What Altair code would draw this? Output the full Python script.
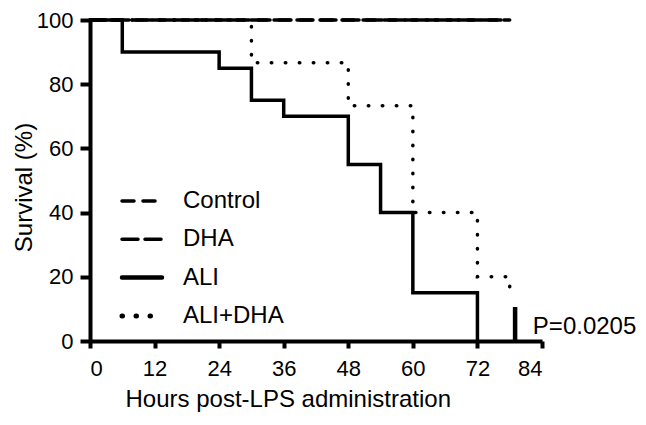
import altair as alt
import pandas as pd

series = ["Control", "DHA", "ALI", "ALI+DHA"]

control_t = [0, 78]
control_s = [100, 100]
dha_t = [0, 78]
dha_s = [100, 100]
ali_t = [0, 6, 24, 30, 36, 48, 54, 60, 72]
ali_s = [100, 90, 85, 75, 70, 55, 40, 15, 0]
alidha_t = [0, 30, 48, 60, 72, 78]
alidha_s = [100, 86.7, 73.3, 40, 20, 13.3]

end_t = [79]
end_lo = [0]
end_hi = [10.6]

p_label = ["P=0.0205"]
p_t = [82.3]
p_s = [4.3]

x_ticks = [0, 12, 24, 36, 48, 60, 72, 84]
y_ticks = [0, 20, 40, 60, 80, 100]

dashes = [[12, 9], [16, 7], [1, 0], [0.5, 13.5]]
widths = [3.5, 3.5, 4.5, 5]

rows = []
for name, ts, ss in [("Control", control_t, control_s), ("DHA", dha_t, dha_s),
                     ("ALI", ali_t, ali_s), ("ALI+DHA", alidha_t, alidha_s)]:
    for i, (t, s) in enumerate(zip(ts, ss)):
        rows.append({"series": name, "t": t, "s": s, "order": i})
df = pd.DataFrame(rows)

FONT = "Liberation Sans"

xscale = alt.Scale(domain=[0, 84], nice=False, zero=False)
yscale = alt.Scale(domain=[0, 100], nice=False)

lines = alt.Chart(df).mark_line(interpolate="step-after", color="black", strokeCap="round").encode(
    x=alt.X("t:Q", scale=xscale,
            axis=alt.Axis(values=x_ticks, title="Hours post-LPS administration",
                          titleAnchor="start", titleAlign="left", titleX=35)),
    y=alt.Y("s:Q", scale=yscale,
            axis=alt.Axis(values=y_ticks, title="Survival (%)", titleY=167)),
    detail="series:N",
    order="order:Q",
    strokeDash=alt.StrokeDash("series:N", scale=alt.Scale(domain=series, range=dashes), legend=None),
    strokeWidth=alt.StrokeWidth("series:N", scale=alt.Scale(domain=series, range=widths), legend=None),
)

end_df = pd.DataFrame({"t": end_t, "lo": end_lo, "hi": end_hi})
end_rule = alt.Chart(end_df).mark_rule(color="black", strokeWidth=4.5).encode(
    x=alt.X("t:Q", scale=xscale),
    y=alt.Y("lo:Q", scale=yscale),
    y2="hi:Q",
)

p_df = pd.DataFrame({"t": p_t, "s": p_s, "label": p_label})
p_text = alt.Chart(p_df).mark_text(align="left", baseline="middle", fontSize=24,
                                   font=FONT, color="black").encode(
    x=alt.X("t:Q", scale=xscale),
    y=alt.Y("s:Q", scale=yscale),
    text="label:N",
)

# legend (drawn as layers, positioned in pixels inside the plot area)
legend_layers = []
LEG_TOP, LEG_STEP = 181, 38.3
for i, name in enumerate(series):
    ldf = pd.DataFrame({"series": [name]})
    ypix = LEG_TOP + i * LEG_STEP
    sym = alt.Chart(ldf).mark_rule(color="black", strokeCap="round",
                                   strokeDash=dashes[i], strokeWidth=widths[i]).encode(
        x=alt.value(32), x2=alt.value(72), y=alt.value(ypix))
    lab = alt.Chart(ldf).mark_text(align="left", baseline="middle", fontSize=24,
                                   font=FONT, color="black").encode(
        x=alt.value(93), y=alt.value(ypix), text="series:N")
    legend_layers += [sym, lab]

chart = alt.layer(lines, end_rule, p_text, *legend_layers).properties(
    width=452, height=321,
    autosize=alt.AutoSizeParams(type="none"),
    padding={"left": 82, "top": 12, "right": 96, "bottom": 76},
).configure_view(stroke=None).configure_axis(
    grid=False, domainColor="black", domainWidth=4, tickColor="black",
    tickWidth=4, labelFontSize=22, labelFont=FONT, labelColor="black",
    titleFont=FONT, titleFontWeight="normal", titleColor="black",
).configure_axisX(titlePadding=8, tickSize=7, labelPadding=10, titleFontSize=24).configure_axisY(
    titlePadding=0, tickSize=10, labelPadding=7, titleFontSize=24)

chart.save("out.html", embed_options={"renderer": "svg", "actions": False})
